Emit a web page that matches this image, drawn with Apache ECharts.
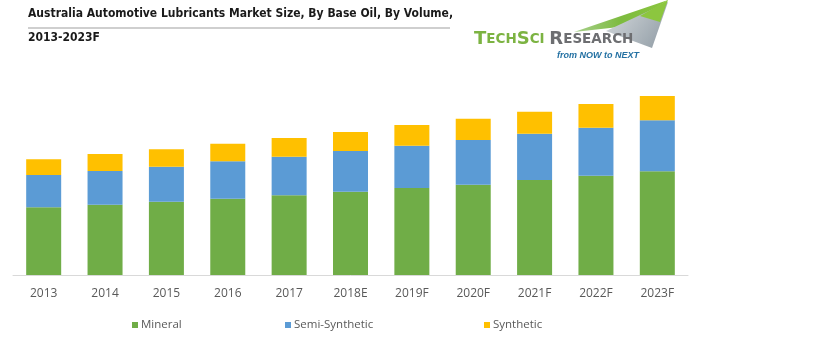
<!DOCTYPE html>
<html>
<head>
<meta charset="utf-8">
<script src="https://cdn.jsdelivr.net/npm/echarts@6/dist/echarts.min.js"></script>
<style>
  html, body { margin: 0; padding: 0; background: #fff; }
  #main { width: 820px; height: 350px; }
</style>
</head>
<body>
<div id="main"></div>
<script>
// values (arbitrary volume units)
var categories = ['2013', '2014', '2015', '2016', '2017', '2018E', '2019F', '2020F', '2021F', '2022F', '2023F'];
var mineral = [67.7, 70.3, 73.3, 76.3, 79.7, 83.3, 87, 90.3, 95, 99.3, 103.7];
var semiSynthetic = [32.3, 33.7, 35, 37.4, 38.6, 40.7, 42.3, 44.7, 46.3, 48, 51];
var synthetic = [15.7, 17, 17.4, 17.6, 18.7, 19, 20.7, 21.3, 22, 23.7, 24.3];

var labelFont = '"Liberation Sans Narrow", "Open Sans", sans-serif';

var legendBase = {
  bottom: 14,
  itemWidth: 6,
  itemHeight: 6,
  itemGap: 2,
  icon: 'rect',
  textStyle: { color: '#595959', fontSize: 11.5, fontFamily: labelFont, padding: [0, 0, 0, -2] }
};

var option = {
  backgroundColor: '#fff',
  animation: false,
  grid: {
    left: 13,
    right: 132,
    top: 75,
    bottom: 75
  },
  legend: [
    Object.assign({ data: ['Mineral'], left: 127 }, legendBase),
    Object.assign({ data: ['Semi-Synthetic'], left: 280 }, legendBase),
    Object.assign({ data: ['Synthetic'], left: 479 }, legendBase)
  ],
  xAxis: {
    type: 'category',
    data: categories,
    axisLine: { lineStyle: { color: '#d9d9d9', width: 1 } },
    axisTick: { show: false },
    axisLabel: {
      color: '#595959',
      fontSize: 12,
      fontFamily: labelFont,
      margin: 13
    }
  },
  yAxis: {
    type: 'value',
    min: 0,
    max: 200,
    show: false,
    splitLine: { show: false }
  },
  series: [
    {
      name: 'Mineral',
      type: 'bar',
      stack: 'total',
      barWidth: 35,
      itemStyle: { color: '#70ad47' },
      data: mineral
    },
    {
      name: 'Semi-Synthetic',
      type: 'bar',
      stack: 'total',
      barWidth: 35,
      itemStyle: { color: '#5b9bd5' },
      data: semiSynthetic
    },
    {
      name: 'Synthetic',
      type: 'bar',
      stack: 'total',
      barWidth: 35,
      itemStyle: { color: '#ffc000' },
      data: synthetic
    }
  ],
  graphic: [
    // title, two lines with a rule between
    {
      type: 'text',
      left: 28,
      top: 8,
      style: {
        text: 'Australia Automotive Lubricants Market Size, By Base Oil, By Volume,',
        fill: '#1a1a1a',
        font: 'bold 12px "DejaVu Sans Condensed", "Liberation Sans", sans-serif'
      }
    },
    {
      type: 'line',
      shape: { x1: 28, y1: 28, x2: 450, y2: 28 },
      style: { stroke: '#bfbfbf', lineWidth: 1.5 }
    },
    {
      type: 'text',
      left: 28,
      top: 32,
      style: {
        text: '2013-2023F',
        fill: '#1a1a1a',
        font: 'bold 12px "DejaVu Sans Condensed", "Liberation Sans", sans-serif'
      }
    },
    // logo swoosh
    {
      type: 'polygon',
      shape: { points: [[574, 32], [668, 0], [628, 26]] },
      style: {
        fill: new echarts.graphic.LinearGradient(0, 0, 1, 0, [
          { offset: 0, color: '#a8d08d' },
          { offset: 0.5, color: '#7dbb3f' },
          { offset: 1, color: '#8cc63f' }
        ])
      }
    },
    {
      type: 'polygon',
      shape: { points: [[606, 31], [668, 2], [652, 48]] },
      style: {
        fill: new echarts.graphic.LinearGradient(0, 0, 1, 1, [
          { offset: 0, color: '#d9dde0' },
          { offset: 1, color: '#8e9aa3' }
        ])
      }
    },
    {
      type: 'polygon',
      shape: { points: [[640, 16], [668, 0], [660, 22]] },
      style: { fill: '#8cc63f' }
    },
    {
      type: 'text',
      left: 474,
      top: 30,
      style: {
        rich: {
          gb: { fill: '#7cb342', font: 'bold 18px "DejaVu Sans", sans-serif' },
          gs: { fill: '#7cb342', font: 'bold 13.5px "DejaVu Sans", sans-serif' },
          rb: { fill: '#6d6e71', font: 'bold 18px "DejaVu Sans", sans-serif' },
          rs: { fill: '#6d6e71', font: 'bold 13.5px "DejaVu Sans", sans-serif' }
        },
        text: '{gb|T}{gs|ECH}{gb|S}{gs|CI }{rb|R}{rs|ESEARCH}'
      }
    },
    {
      type: 'text',
      left: 557,
      top: 51,
      style: {
        text: 'from NOW to NEXT',
        fill: '#2471a3',
        font: 'italic bold 9px "Liberation Sans Narrow", sans-serif'
      }
    }
  ]
};

var chart = echarts.init(document.getElementById('main'));
chart.setOption(option);
</script>
</body>
</html>
